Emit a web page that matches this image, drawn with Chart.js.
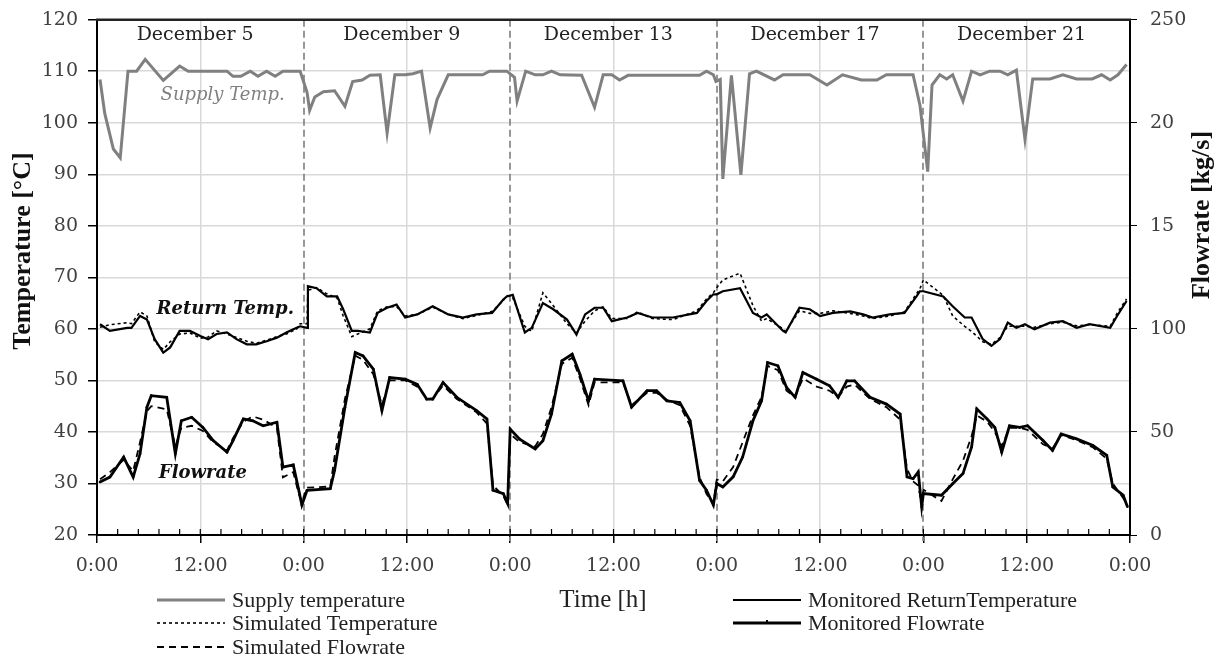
<!DOCTYPE html>
<html lang="en">
<head>
    <meta charset="UTF-8">
    <title>Supply / Return Temperature and Flowrate</title>
    <script src="https://cdn.jsdelivr.net/npm/chart.js"></script>
    <style>
        body {
            margin: 0;
            background: #fff;
        }
        .wrap {
            width: 1222px;
            height: 661px;
        }
    </style>
</head>
<body>
    <div class="wrap">
        <canvas id="flowChart" width="1222" height="661"></canvas>
    </div>

    <script>
        // values, x in hours from December 5, 0:00
        const dayLabels = ['December 5', 'December 9', 'December 13', 'December 17', 'December 21'];
        const xTickLabels = ['0:00', '12:00'];

        const supplyHours = [
            0.35, 0.9, 1.9, 2.7, 3.6, 4.6, 5.6, 7.7, 9.6, 10.6, 15.1, 15.8, 16.7, 17.8, 18.7, 19.7, 20.7, 21.6, 23.6,
            24.4, 24.7, 25.3, 26.3, 27.6, 28.8, 29.7, 30.8, 31.7, 32.9, 33.7, 34.6, 35.8, 36.7, 37.7, 38.7, 39.5, 40.8, 44.8, 45.6, 47.6,
            48.5, 48.8, 49.8, 50.9, 51.8, 52.8, 53.8, 56.3, 57.8, 58.8, 59.8, 60.7, 61.7, 70.0, 70.8, 71.6, 71.9,
            72.4, 72.7, 73.7, 74.8, 75.8, 76.6, 78.7, 79.7, 82.8, 84.8, 86.6, 88.8, 90.6, 91.7, 94.8, 95.6,
            96.5, 97.0, 97.9, 98.7, 99.4, 100.6, 101.6, 102.6, 103.7, 104.9, 105.8, 106.8, 107.8, 108.7, 110.7, 112.2, 113.8, 115.6, 116.7, 117.7, 118.6, 119.6
        ];
        const supplyTemp = [
            108.4, 101.8, 94.9, 93.2, 110, 110, 112.3, 108.2, 111, 110, 110, 109, 109, 110, 109, 110, 109, 110, 110,
            105.9, 102.4, 105, 106, 106.2, 103.2, 108, 108.3, 109.2, 109.3, 98, 109.3, 109.3, 109.5, 110, 99, 104.5, 109.3, 109.3, 110, 110,
            108.8, 104.2, 110, 109.3, 109.3, 110, 109.3, 109.2, 103, 109.3, 109.3, 108.3, 109.2, 109.2, 110, 109.3, 108,
            108.4, 89.1, 109.2, 89.9, 109.5, 110, 108.3, 109.3, 109.3, 107.3, 109.3, 108.3, 108.3, 109.3, 109.3, 103.4,
            90.5, 107.3, 109.3, 108.5, 109.3, 104.2, 110, 109.3, 110, 110, 109.3, 110.2, 96.8, 108.5, 108.5, 109.3, 108.5, 108.5, 109.3, 108.3, 109.3, 111.3
        ];

        const returnHours = [
            0.35, 1.5, 3.5, 4.0, 5.0, 5.8, 6.7, 7.7, 8.5, 9.6, 10.8, 12.0, 12.9, 13.9, 15.1, 16.2, 17.4, 18.5, 19.7, 20.9, 22.0, 23.2, 23.6,
            24.4, 24.5, 25.5, 26.7, 27.9, 28.6, 29.6, 30.3, 31.7, 32.6, 33.7, 34.8, 35.8, 37.2, 39.0, 40.8, 42.5, 44.1, 45.9, 47.2, 47.6,
            48.3, 49.7, 50.5, 51.8, 53.0, 54.6, 55.7, 56.7, 57.8, 58.8, 59.8, 61.6, 62.8, 64.5, 66.9, 69.7, 70.8, 71.6,
            72.0, 72.7, 74.7, 76.2, 77.2, 77.8, 79.7, 80.0, 81.6, 82.8, 84.0, 85.5, 87.5, 89.0, 90.1, 92.1, 93.8, 95.2, 95.6,
            96.0, 98.3, 99.4, 100.8, 101.6, 102.9, 103.9, 104.9, 105.8, 106.8, 107.8, 108.9, 110.7, 112.2, 113.8, 115.3, 117.7, 118.5, 119.6
        ];
        const returnMonitored = [
            60.9, 59.6, 60.2, 60.2, 62.5, 61.8, 58, 55.4, 56.4, 59.6, 59.6, 58.6, 58, 59, 59.3, 58, 57, 57, 57.6, 58.3, 59.3, 60.2, 60.5,
            60.2, 68.3, 67.9, 66.3, 66.3, 63.8, 59.6, 59.6, 59.3, 63.1, 64.1, 64.7, 62.2, 62.8, 64.4, 62.8, 62.2, 62.8, 63.1, 65.7, 66.3,
            66.6, 59.3, 60.2, 65.0, 63.8, 61.8, 58.9, 62.8, 64.1, 64.1, 61.5, 62.2, 63.1, 62.2, 62.2, 63.1, 65.4, 66.7,
            66.7, 67.3, 67.9, 63.1, 62.2, 62.8, 59.6, 59.3, 64.1, 63.8, 62.5, 63.1, 63.4, 62.8, 62.2, 62.8, 63.1, 66.3, 67.3,
            67.3, 66.3, 64.4, 62.2, 62.2, 58.0, 56.7, 58.0, 61.2, 60.2, 60.9, 59.9, 61.2, 61.5, 60.2, 60.9, 60.2, 62.5, 65.4
        ];
        const returnSimulated = [
            60.3, 60.8, 61.2, 61.0, 63.3, 62.5, 57.5, 56.0, 57.5, 59.0, 59.2, 58.2, 58.4, 59.6, 59.0, 58.3, 57.6, 57.2, 57.8, 58.5, 59.0, 60.0, 61.0,
            61.0, 67.5, 68.0, 66.8, 66.0, 62.5, 58.5, 59.0, 60.0, 63.5, 64.3, 64.3, 62.5, 62.8, 64.2, 62.8, 62.0, 62.6, 63.4, 65.5, 66.5,
            66.0, 60.5, 59.5, 67.0, 64.5, 61.0, 59.2, 61.5, 63.5, 64.3, 62.0, 62.0, 63.3, 62.0, 61.8, 63.5, 65.8, 67.0,
            68.0, 69.5, 70.8, 64.5, 61.5, 62.0, 60.0, 59.5, 63.5, 63.0, 63.0, 63.5, 63.0, 62.5, 62.0, 62.5, 63.3, 66.8, 67.8,
            69.5, 66.5, 62.5, 60.5, 59.5, 57.5, 57.0, 58.3, 60.5, 60.5, 60.5, 60.3, 61.0, 61.3, 60.6, 60.8, 60.5, 63.0, 65.8
        ];

        const flowHours = [
            0.35, 1.5, 3.1, 4.2, 5.0, 5.8, 6.3, 8.1, 9.1, 9.8, 11.0, 12.3, 13.5, 15.1, 15.8, 17.0, 18.1, 19.3, 20.9, 21.6, 22.8, 23.4, 23.8,
            24.4, 27.1, 27.6, 28.8, 30.0, 30.9, 32.1, 33.1, 34.0, 35.8, 37.2, 38.3, 39.0, 40.2, 41.8, 44.1, 45.3, 46.0, 47.2, 47.7,
            48.0, 49.1, 50.9, 51.8, 52.8, 54.0, 55.2, 56.1, 57.1, 57.8, 61.1, 62.1, 63.9, 65.0, 66.2, 67.7, 68.9, 70.0, 70.8, 71.6,
            72.0, 72.7, 73.9, 75.0, 76.2, 77.2, 77.9, 79.1, 80.1, 81.1, 82.0, 83.6, 85.1, 86.1, 87.1, 88.0, 89.8, 91.7, 93.3, 94.1, 94.8, 95.4, 95.8,
            96.0, 98.1, 99.4, 100.6, 101.6, 102.2, 103.4, 104.3, 105.1, 106.0, 107.2, 108.1, 109.9, 111.0, 112.0, 113.8, 115.7, 117.3, 118.0, 119.2, 119.7
        ];
        const flowMonitored = [
            25.7, 28.1, 37.8, 28.1, 39.4, 62, 67.6, 66.8, 39.4, 55.4, 57.1, 52.2, 45.8, 40.2, 45.8, 56.3, 55.4, 53, 54.7, 32.9, 34.0, 22.5, 14.5,
            21.7, 22.5, 31.4, 62, 88.5, 86.9, 80.5, 60.3, 76.4, 75.6, 73.1, 65.9, 65.9, 74, 66.8, 60.3, 56.3, 21.7, 20.1, 15.3,
            51.4, 46.5, 41.7, 45.7, 58.7, 84.5, 87.7, 78.0, 65.1, 75.6, 74.8, 62.0, 70.0, 70.0, 65.1, 64.3, 55.4, 26.5, 21.7, 14.5,
            25.0, 23.3, 28.2, 37.8, 55.4, 65.1, 83.7, 82.1, 71.6, 66.8, 78.8, 75.6, 72.4, 66.8, 74.8, 74.8, 66.8, 63.5, 58.7, 28.2, 27.3, 30.6, 13.7,
            20.1, 19.3, 24.9, 29.8, 42.7, 61.2, 56.3, 52.2, 40.2, 53.0, 52.2, 53.0, 45.8, 41.0, 49.0, 46.6, 43.4, 38.6, 23.3, 19.3, 13.7
        ];
        const flowSimulated = [
            27.0, 30.5, 36.5, 31.0, 45.0, 60.0, 62.5, 61.0, 43.0, 52.0, 53.0, 50.5, 45.0, 41.0, 47.0, 55.0, 57.5, 56.0, 52.0, 28.0, 30.5, 20.5, 16.0,
            23.0, 23.5, 38.0, 66.0, 87.0, 85.0, 78.0, 63.0, 75.0, 75.0, 72.0, 66.5, 66.0, 72.5, 66.0, 59.5, 54.0, 24.0, 19.0, 14.5,
            49.0, 45.0, 43.0, 49.0, 62.0, 83.0, 86.0, 76.0, 63.0, 74.0, 74.0, 63.0, 69.0, 69.0, 65.5, 63.0, 53.0, 28.0, 20.0, 15.0,
            27.0, 26.0, 33.0, 45.0, 58.0, 67.0, 82.0, 80.0, 70.0, 67.0, 76.0, 72.0, 70.0, 67.0, 72.0, 73.0, 66.0, 62.0, 56.0, 32.0, 26.0, 24.0, 15.0,
            22.0, 16.5, 27.0, 36.0, 48.0, 58.0, 55.0, 50.0, 43.0, 52.0, 52.0, 51.0, 44.0, 42.0, 48.5, 46.0, 42.5, 37.0, 25.0, 18.0, 14.0
        ];

        // right axis shows "20" and "15" for 200 / 150 in the figure
        const flowTickText = { 0: '0', 50: '50', 100: '100', 150: '15', 200: '20', 250: '250' };

        const pts = (xs, ys) => xs.map((x, i) => ({ x: x, y: ys[i] }));

        const tickFont = { family: '"DejaVu Serif"', size: 19 };
        // tight line height so the top label doesn't push the plot down
        const yTickFont = { family: '"DejaVu Serif"', size: 19, lineHeight: 0.7 };

        // day separators, labels, minor ticks, titles and the two-column legend
        const overlay = {
            id: 'overlay',
            beforeDatasetsDraw(chart) {
                const { ctx, chartArea: a, scales } = chart;
                ctx.save();
                ctx.strokeStyle = '#8c8c8c';
                ctx.lineWidth = 1.8;
                ctx.setLineDash([7, 4]);
                for (let d = 1; d < dayLabels.length; d++) {
                    const px = Math.round(scales.x.getPixelForValue(d * 24));
                    ctx.beginPath();
                    ctx.moveTo(px, a.top);
                    ctx.lineTo(px, a.bottom + 6);
                    ctx.stroke();
                }
                ctx.restore();
            },
            afterDraw(chart) {
                const { ctx, chartArea: a, scales } = chart;
                const x = scales.x, yT = scales.yTemp;
                ctx.save();

                // top frame line
                ctx.strokeStyle = '#222';
                ctx.lineWidth = 2.5;
                ctx.beginPath();
                ctx.moveTo(a.left - 1, a.top);
                ctx.lineTo(a.right + 1, a.top);
                ctx.stroke();

                // minor ticks pointing inward
                ctx.strokeStyle = '#000';
                ctx.lineWidth = 1.2;
                for (let h = 2.4; h < 120; h += 2.4) {
                    const px = x.getPixelForValue(h);
                    ctx.beginPath();
                    ctx.moveTo(px, a.bottom);
                    ctx.lineTo(px, a.bottom - 6);
                    ctx.stroke();
                }

                ctx.textAlign = 'center';
                ctx.textBaseline = 'middle';

                ctx.font = '19px "DejaVu Serif"';
                ctx.fillStyle = '#222';
                dayLabels.forEach((lbl, i) => {
                    ctx.fillText(lbl, x.getPixelForValue(i * 24 + 11.4), a.top + 15);
                });

                ctx.font = 'italic 18px "DejaVu Serif"';
                ctx.fillStyle = '#808080';
                ctx.fillText('Supply Temp.', x.getPixelForValue(14.6), yT.getPixelForValue(105.3));

                ctx.font = 'italic bold 18px "DejaVu Serif"';
                ctx.fillStyle = '#111';
                ctx.fillText('Return Temp.', x.getPixelForValue(14.9), yT.getPixelForValue(63.8));
                ctx.fillText('Flowrate', x.getPixelForValue(12.3), yT.getPixelForValue(32));

                // axis titles
                ctx.font = 'bold 26px "Liberation Serif"';
                ctx.fillStyle = '#111';
                ctx.save();
                ctx.translate(23, 251);
                ctx.rotate(-Math.PI / 2);
                ctx.fillText('Temperature [°C]', 0, 0);
                ctx.restore();
                ctx.save();
                ctx.translate(1202, 215);
                ctx.rotate(-Math.PI / 2);
                ctx.fillText('Flowrate [kg/s]', 0, 0);
                ctx.restore();

                ctx.font = '25px "Liberation Serif"';
                ctx.fillStyle = '#222';
                ctx.fillText('Time [h]', 603, 600);

                // legend
                const slots = [[157, 600], [157, 623], [157, 647], [733, 600], [733, 623]];
                ctx.font = '22px "Liberation Serif"';
                ctx.textAlign = 'left';
                chart.data.datasets.forEach((ds, i) => {
                    const [lx, ly] = slots[i];
                    ctx.strokeStyle = ds.borderColor;
                    ctx.lineWidth = ds.borderWidth;
                    ctx.setLineDash(ds.borderDash || []);
                    ctx.beginPath();
                    ctx.moveTo(lx, ly);
                    ctx.lineTo(lx + 68, ly);
                    ctx.stroke();
                    ctx.setLineDash([]);
                    if (ds.pointRadius > 0) {
                        ctx.fillStyle = ds.borderColor;
                        ctx.fillRect(lx + 33, ly - 3, 2, 3);
                    }
                    ctx.fillStyle = '#222';
                    ctx.fillText(ds.label, lx + 75, ly + 1);
                });

                ctx.restore();
            }
        };

        new Chart(document.getElementById('flowChart').getContext('2d'), {
            type: 'line',
            data: {
                datasets: [{
                    label: 'Supply temperature',
                    data: pts(supplyHours, supplyTemp),
                    borderColor: '#808080',
                    borderWidth: 3,
                    pointRadius: 0,
                    yAxisID: 'yTemp'
                }, {
                    label: 'Simulated Temperature',
                    data: pts(returnHours, returnSimulated),
                    borderColor: '#000',
                    borderWidth: 1.6,
                    borderDash: [3, 3],
                    pointRadius: 0,
                    yAxisID: 'yTemp'
                }, {
                    label: 'Simulated Flowrate',
                    data: pts(flowHours, flowSimulated),
                    borderColor: '#000',
                    borderWidth: 1.8,
                    borderDash: [7, 5],
                    pointRadius: 0,
                    yAxisID: 'yFlow'
                }, {
                    label: 'Monitored ReturnTemperature',
                    data: pts(returnHours, returnMonitored),
                    borderColor: '#000',
                    borderWidth: 2.2,
                    pointRadius: 0,
                    yAxisID: 'yTemp'
                }, {
                    label: 'Monitored Flowrate',
                    data: pts(flowHours, flowMonitored),
                    borderColor: '#000',
                    borderWidth: 2.8,
                    pointRadius: 1.3,
                    pointBackgroundColor: '#000',
                    pointBorderWidth: 0,
                    yAxisID: 'yFlow'
                }]
            },
            options: {
                responsive: false,
                animation: false,
                layout: { padding: { top: 15, left: 0, right: 0, bottom: 0 } },
                plugins: {
                    legend: { display: false },
                    tooltip: { enabled: false }
                },
                scales: {
                    x: {
                        type: 'linear',
                        min: 0,
                        max: 120,
                        afterFit: s => { s.height = 126; },
                        border: { color: '#000', width: 2 },
                        grid: {
                            color: c => (c.tick && c.tick.value % 24 === 0) ? 'rgba(0,0,0,0)' : '#d9d9d9',
                            lineWidth: 1.5,
                            tickColor: '#000',
                            tickLength: 8
                        },
                        ticks: {
                            stepSize: 12,
                            autoSkip: false,
                            maxRotation: 0,
                            padding: 12,
                            color: '#404040',
                            font: tickFont,
                            callback: v => xTickLabels[(v / 12) % 2]
                        }
                    },
                    yTemp: {
                        position: 'left',
                        min: 20,
                        max: 120,
                        afterFit: s => { s.width = 97; },
                        border: { color: '#000', width: 2 },
                        grid: {
                            color: '#d9d9d9',
                            lineWidth: 1.5,
                            tickColor: '#000',
                            tickLength: 9
                        },
                        ticks: {
                            stepSize: 10,
                            padding: 10,
                            color: '#404040',
                            font: yTickFont
                        }
                    },
                    yFlow: {
                        position: 'right',
                        min: 0,
                        max: 250,
                        afterFit: s => { s.width = 92; },
                        border: { color: '#000', width: 2 },
                        grid: {
                            drawOnChartArea: false,
                            tickColor: '#000',
                            tickLength: 7
                        },
                        ticks: {
                            stepSize: 50,
                            padding: 13,
                            color: '#404040',
                            font: yTickFont,
                            callback: v => flowTickText[v]
                        }
                    }
                }
            },
            plugins: [overlay]
        });
    </script>
</body>
</html>
